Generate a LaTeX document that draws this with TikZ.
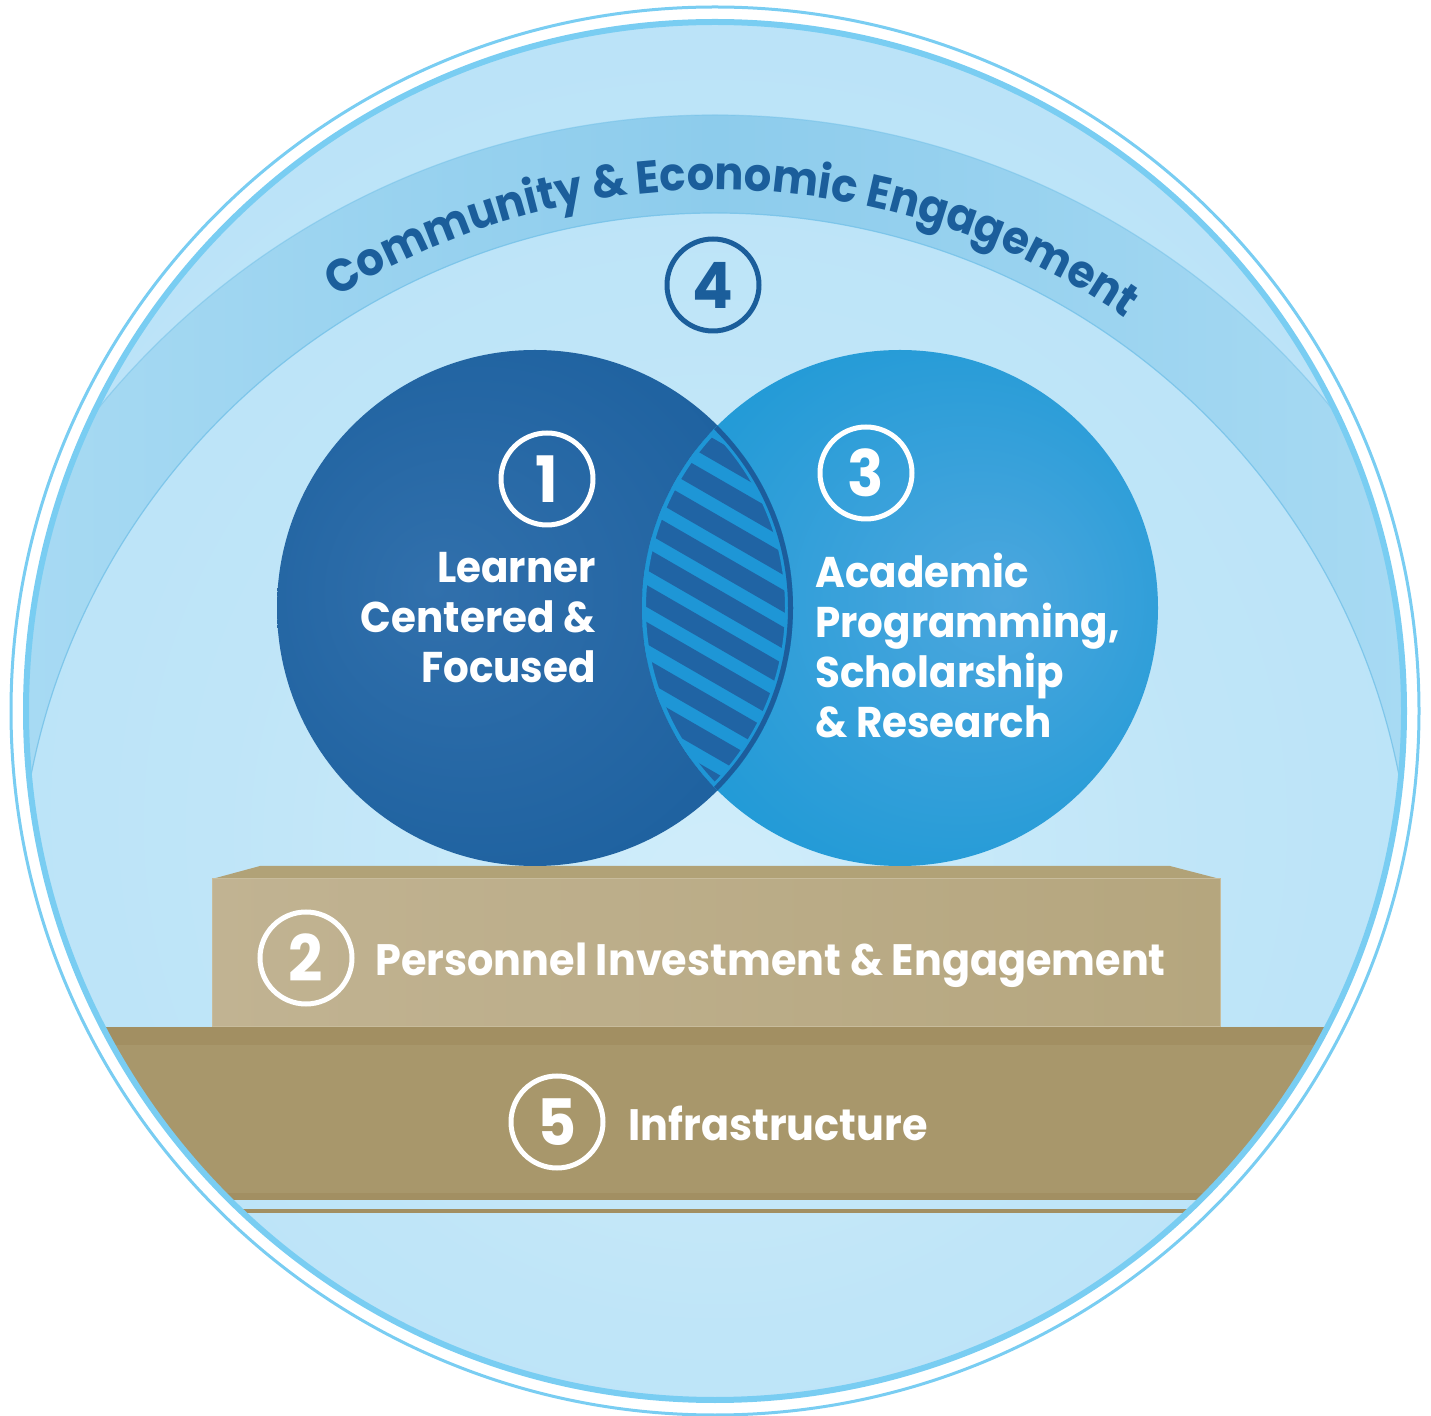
\documentclass[tikz,border=0pt]{standalone}
\usepackage{fontspec}
\setmainfont{Poppins}[FakeStretch=0.94]
\usetikzlibrary{decorations.text}
\definecolor{ring}{HTML}{79CDF2}
\definecolor{bgin}{HTML}{D0EDFA}
\definecolor{bgmid}{HTML}{BFE5F8}
\definecolor{bgout}{HTML}{B6E1F7}
\definecolor{bandc}{HTML}{8DCCEC}
\definecolor{bands}{HTML}{ABDCF4}
\definecolor{bandline}{HTML}{74C1E8}
\definecolor{tdark}{HTML}{1B5E9B}
\definecolor{lvin}{HTML}{3170AC}
\definecolor{lvout}{HTML}{175C9B}
\definecolor{rvin}{HTML}{4CA7DE}
\definecolor{rvout}{HTML}{1A98D5}
\definecolor{lenslight}{HTML}{1E96D6}
\definecolor{lensdark}{HTML}{2064A4}
\definecolor{lensrim}{HTML}{1C5D9C}
\definecolor{boxtop}{HTML}{B1A277}
\definecolor{boxl}{HTML}{C1B392}
\definecolor{boxr}{HTML}{B5A67E}
\definecolor{boxedge}{HTML}{C8BC9C}
\definecolor{infra}{HTML}{A8976B}
\definecolor{infradk}{HTML}{A28F62}
\pgfdeclareradialshading{bgshade}{\pgfpoint{0bp}{-7bp}}{color(0bp)=(bgin); color(18bp)=(bgmid); color(40bp)=(bgout); color(50bp)=(bgout)}
\pgfdeclareradialshading{lvshade}{\pgfpoint{-10bp}{2bp}}{color(0bp)=(lvin); color(40bp)=(lvout); color(50bp)=(lvout)}
\pgfdeclareradialshading{rvshade}{\pgfpoint{10bp}{1bp}}{color(0bp)=(rvin); color(34bp)=(rvout); color(50bp)=(rvout)}
\tikzset{
  numc/.style={circle, draw=white, line width=2.5pt, minimum size=46pt, inner sep=0pt,
    text=white, font=\bfseries\fontsize{32}{32}\selectfont},
  venntext/.style={text=white, inner sep=0pt, font=\bfseries\fontsize{21.5}{25}\selectfont},
  boxtext/.style={text=white, inner sep=0pt, font=\bfseries\fontsize{22}{25}\selectfont, anchor=base west}
}
\begin{document}
\begin{tikzpicture}[x=0.5pt,y=-0.5pt]
\useasboundingbox (0,0) rectangle (1431,1416);
% outer thin ring
\draw[ring, line width=1.5pt] (715,711) circle [radius=704];
% main disc contents
\begin{scope}
  \clip (715,711) circle [radius=689];
  \shade[shading=bgshade] (715,711) circle [radius=689];
  % engagement band
  \shade[even odd rule, left color=bands, right color=bands, middle color=bandc]
    (715,910) circle [radius=795] (715,910) circle [radius=697];
  \draw[bandline, line width=0.6pt, opacity=0.8] (715,910) circle [radius=697];
  \draw[bandline, line width=0.6pt, opacity=0.5] (715,910) circle [radius=795];
  % infrastructure slab
  \fill[infra] (0,1027) rectangle (1431,1200);
  \fill[infradk] (0,1027) rectangle (1431,1045);
  \fill[infradk] (0,1193) rectangle (1431,1200);
  \fill[infradk] (0,1209) rectangle (1431,1213);
\end{scope}
\draw[ring, line width=3pt] (715,711) circle [radius=689];
% band text
\path[decorate, decoration={text along path, text align=center, text color=tdark,
  text={|\bfseries\fontsize{23}{23}\selectfont|Community {\&} Economic Engagement}}]
  (715,910) ++(-130:720) arc [start angle=-130, end angle=-47, radius=720];
\node[numc, draw=tdark, text=tdark] (n4) at (713,285) {4};
% personnel box
\fill[boxtop] (212,879) -- (260,866) -- (1170,866) -- (1220,879) -- cycle;
\shade[left color=boxl, right color=boxr, draw=boxedge, line width=0.5pt] (212,879) rectangle (1220,1027);
% venn circles
\shade[shading=lvshade] (535,608) circle [radius=258];
\shade[shading=rvshade] (900,608) circle [radius=258];
% lens
\begin{scope}
  \clip (535,608) circle [radius=258];
  \clip (900,608) circle [radius=258];
  \fill[lenslight] (600,400) rectangle (840,820);
  \foreach \k in {-9,...,9}
    \draw[lensdark, line width=9.5pt] (600,{532.1+37*\k}) -- (840,{670.6+37*\k});
  \draw[lenslight, line width=4pt] (900,608) circle [radius=258];
  \draw[lenslight, line width=8pt] (535,608) circle [radius=258];
  \draw[lensrim, line width=5pt] (535,608) circle [radius=258];
\end{scope}
% numbers
\node[numc] (n1) at (547,479) {1};
\node[numc] (n3) at (866,473) {3};
\node[numc] (n2) at (306,958) {2};
\node[numc] (n5) at (557,1122) {5};
% texts
\node[venntext, align=right, anchor=north east] (t1) at (596,552) {Learner\\Centered \&\\Focused};
\node[venntext, align=left, anchor=north west] (t3) at (815,553) {Academic\\Programming,\\Scholarship\\\& Research};
\node[boxtext] (t2) at (375,976) {Personnel Investment \& Engagement};
\node[boxtext] (t5) at (628,1140) {Infrastructure};
\end{tikzpicture}
\end{document}
